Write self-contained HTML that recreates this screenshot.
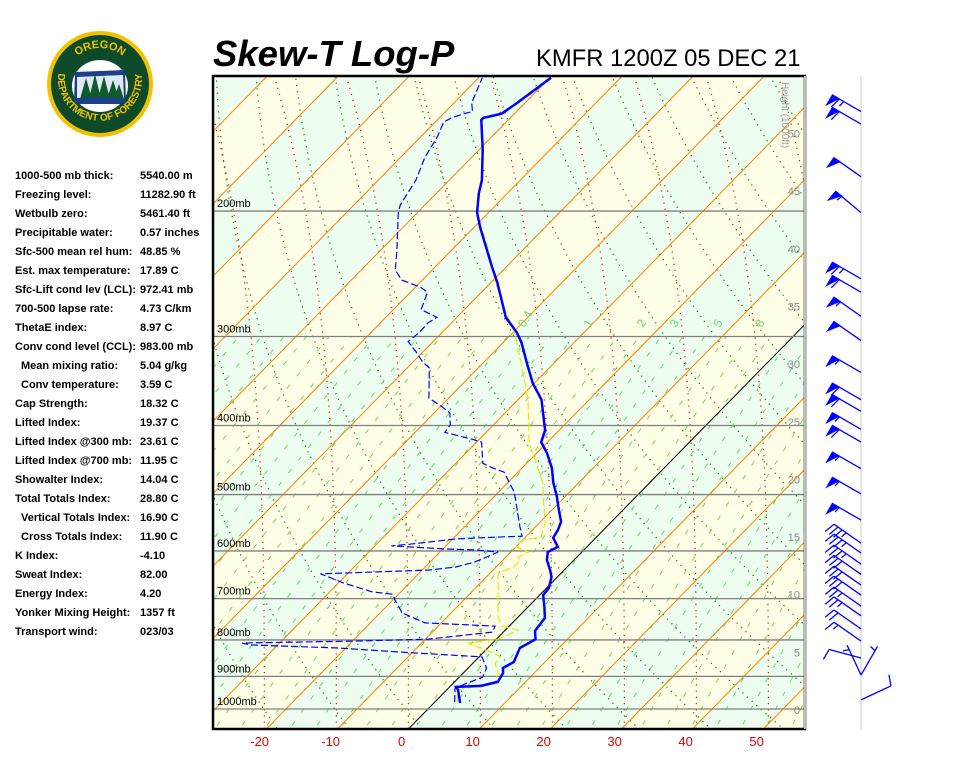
<!DOCTYPE html>
<html><head><meta charset="utf-8"><style>
body{margin:0;background:#fff;width:960px;height:768px;overflow:hidden;font-family:"Liberation Sans",Arial,sans-serif}
#stats{position:absolute;left:15px;top:170px;font-size:11px;font-weight:bold;color:#000}
.row{position:absolute;white-space:nowrap;height:14px}
.row .v{position:absolute;left:125px}
</style></head><body>
<svg id="logo" width="960" height="768" style="position:absolute;left:0;top:0">
 <defs>
  <path id="arcTop" d="M64,84 A36,36 0 0 1 136,84"/>
  <path id="arcBot" d="M60,66 A42,42 0 1 0 140,66"/>
 </defs>
 <circle cx="100" cy="84" r="53" fill="#f2c200"/>
 <circle cx="100" cy="84" r="49" fill="#0d4a2a"/>
 <ellipse cx="100" cy="86" rx="28" ry="26" fill="#fff"/>
 <path d="M75,72 L125,70 L126,102 L74,102 Z" fill="#1c3f8a"/>
 <path d="M77,77 L123,75 L124,98 L77,98 Z" fill="#dfe8f3"/>
 <g fill="#0d5a2a"><path d="M80,99 L86,78 L92,99Z"/><path d="M89,99 L95,74 L101,99Z"/><path d="M98,99 L104,76 L110,99Z"/><path d="M107,99 L113,80 L119,99Z"/><path d="M114,99 L119,84 L124,99Z"/></g>
 <path d="M76,99 Q100,95 124,99 L122,104 L78,104Z" fill="#1c3f8a"/>
 <text font-size="11" font-weight="bold" fill="#f2c200" font-family="Liberation Sans,sans-serif"><textPath href="#arcTop" startOffset="50%" text-anchor="middle">OREGON</textPath></text>
 <text font-size="10" font-weight="bold" fill="#f2c200" font-family="Liberation Sans,sans-serif"><textPath href="#arcBot" startOffset="50%" text-anchor="middle">DEPARTMENT OF FORESTRY</textPath></text>
 <text x="213" y="66" font-size="36.5" font-weight="bold" font-style="italic" fill="#000">Skew-T Log-P</text>
 <text x="536" y="66" font-size="23.8" fill="#000">KMFR 1200Z 05 DEC 21</text>
</svg>
<div id="stats"></div>
<svg id="chart" width="960" height="768" style="position:absolute;left:0;top:0"></svg>
<script>
const tempP=[981,940,931,928,919,916,890,876,859,834,821,808,798,777,745,719,692,676,653,638,618,602,592,575,561,546,526,501,482,459,437,422,406,368,349,327,306,296,282,252,240,225,211,201,189,181,164,149,148,146,141,130];
const tempT=[3.7,1.6,0.9,4.3,5.6,6.1,5.6,4.9,5.6,4.9,4.5,5.1,5.5,4.3,3.9,2.3,0.5,0.3,-0.8,-2.0,-3.8,-4.8,-4.1,-6.0,-6.4,-7.1,-9.0,-11.4,-13.5,-15.8,-18.6,-20.9,-22.0,-26.7,-30.2,-33.8,-37.4,-39.5,-43.1,-49.1,-51.9,-55.5,-59.1,-61.6,-64.0,-65.4,-69.5,-73.8,-73.8,-71.8,-71.1,-69.8];
const dewP=[978,934,902,876,845,834,821,813,808,803,798,780,765,757,733,703,690,685,665,646,644,638,632,622,602,598,596,590,587,577,574,572,555,509,496,465,459,452,422,418,409,399,384,377,366,332,326,316,305,296,287,282,275,260,256,250,242,227,201,196,181,168,157,150,148,146,145,141,130];
const dewT=[2.8,0.9,3.3,2.6,0.4,-10.0,-21.1,-33.9,-35.3,-19.7,-9.7,-1.5,-2.0,-12.3,-16.9,-19.7,-20.8,-24.0,-29.4,-33.8,-29.5,-19.0,-15.7,-13.7,-11.8,-15.3,-20.0,-27.7,-25.3,-19.5,-14.3,-10.6,-12.2,-16.5,-17.8,-22.0,-24.1,-26.2,-29.3,-31.1,-35.8,-36.1,-37.8,-39.6,-42.8,-46.9,-48.6,-50.8,-53.5,-53.2,-53.3,-52.8,-56.1,-57.6,-59.2,-62.9,-65.2,-67.7,-72.7,-73.5,-74.7,-76.6,-77.7,-78.8,-78.3,-77.1,-76.2,-77.5,-79.5];
const parcelP=[978,940,919,890,862,845,834,808,798,775,765,745,644,632,618,612,602,592,579,574,548,509,482,447,423,368,324,296,269,250,222,207,201];
const parcelT=[3.1,1.6,5.8,4.9,3.1,3.0,1.4,-3.5,0.2,1.8,-1.0,-2.7,-8.9,-7.5,-7.6,-8.3,-7.5,-10.0,-9.9,-7.8,-9.2,-12.6,-15.0,-19.3,-22.5,-28.6,-35.1,-39.8,-45.6,-49.8,-56.0,-60.0,-61.6];
const barbP=[145,151,179,201,249,260,281,304,337,368,382,405,422,460,499,543,585,604,626,647,670,692,717,740,772,803,848,896,896,971];
const barbDir=[300,300,305,310,300,300,305,305,300,300,300,300,300,300,300,300,305,305,305,305,305,305,305,305,305,305,285,335,30,65];
const barbSpd=[65,60,50,55,65,60,55,50,55,60,60,55,60,55,55,55,35,35,35,30,30,30,25,25,20,15,10,5,5,10];
const pressureLevels=[1000,900,800,700,600,500,400,300,200];
const tempTicks=[-20,-10,0,10,20,30,40,50];
const heightTicks=[0,5,10,15,20,25,30,35,40,45,50];
const mixLabels=[0.4,1,2,3,5,8];
const moistBase=[-40,-30,-20,-10,0,10,20,30,40,50,60];
const stats=[["1000-500 mb thick:","5540.00 m",0],["Freezing level:","11282.90 ft",0],["Wetbulb zero:","5461.40 ft",0],["Precipitable water:","0.57 inches",0],["Sfc-500 mean rel hum:","48.85 %",0],["Est. max temperature:","17.89 C",0],["Sfc-Lift cond lev (LCL):","972.41 mb",0],["700-500 lapse rate:","4.73 C/km",0],["ThetaE index:","8.97 C",0],["Conv cond level (CCL):","983.00 mb",0],["Mean mixing ratio:","5.04 g/kg",1],["Conv temperature:","3.59 C",1],["Cap Strength:","18.32 C",0],["Lifted Index:","19.37 C",0],["Lifted Index @300 mb:","23.61 C",0],["Lifted Index @700 mb:","11.95 C",0],["Showalter Index:","14.04 C",0],["Total Totals Index:","28.80 C",0],["Vertical Totals Index:","16.90 C",1],["Cross Totals Index:","11.90 C",1],["K Index:","-4.10",0],["Sweat Index:","82.00",0],["Energy Index:","4.20",0],["Yonker Mixing Height:","1357 ft",0],["Transport wind:","023/03",0]];

const st=document.getElementById('stats');
stats.forEach((s,i)=>{
  const r=document.createElement('div');
  r.className='row';r.style.top=(i*19)+'px';r.style.left=(s[2]?6:0)+'px';
  r.innerHTML='<span>'+s[0]+'</span><span class="v" style="left:'+(125-(s[2]?6:0))+'px">'+s[1]+'</span>';
  
  
  st.appendChild(r);
});

const NS='http://www.w3.org/2000/svg';
const svg=document.getElementById('chart');
const L=213,R=805,T0=76,B=729;
function yOf(p){return 709+309.4*Math.log(p/1000);}
function xAtY(t,y){return 428+7.1*t+0.98*(709-y);}
function xOf(t,p){return xAtY(t,yOf(p));}
function mk(tag,a,parent){const e=document.createElementNS(NS,tag);for(const k in a)e.setAttribute(k,a[k]);(parent||svg).appendChild(e);return e;}
const defs=mk('defs',{});
const cp=mk('clipPath',{id:'clip'},defs);mk('rect',{x:L,y:T0,width:R-L,height:B-T0},cp);
const g=mk('g',{'clip-path':'url(#clip)'});


for(let t=-160;t<70;t+=10){
  const green=(Math.floor(t/10)%2===0);
  const b=mk('polygon',{points:[xAtY(t,B),B,xAtY(t+10,B),B,xAtY(t+10,T0),T0,xAtY(t,T0),T0].join(' '),fill:green?'#edfdef':'#fffee6'},g);
  
  
}
function pathFrom(pts){return 'M'+pts.map(p=>p[0].toFixed(1)+','+p[1].toFixed(1)).join('L');}
for(let th=200;th<=480;th+=10){
  const pts=[];for(let p=1100;p>=120;p-=10){const T=th*Math.pow(p/1000,0.286)-273.15;pts.push([xOf(T,p),yOf(p)]);}
  const e=mk('path',{d:pathFrom(pts),fill:'none',stroke:'#008000','stroke-width':1.2,'stroke-dasharray':'1.2,5'},g);
  
  
}
moistBase.forEach(tw=>{
  const xb=xAtY(tw,B)+ (tw*0.1);
  const pts=[];for(let y=B;y>=T0-2;y-=8){const d=(B-y)/653;pts.push([xb-62*d*d*d,y]);}
  const e=mk('path',{d:pathFrom(pts),fill:'none',stroke:'#ff0000','stroke-width':1.2,'stroke-dasharray':'1.2,5'},g);
  
  
});
function es(t){return 6.112*Math.exp(17.67*t/(t+243.5));}
function tdFromW(w,p){const e=w*p/(622+w);const l=Math.log(e/6.112);return 243.5*l/(17.67-l);}
for(let td=-70;td<=62;td+=3.5){
  const e0=es(td),w=622*e0/(1000-e0);
  const pts=[];for(let p=1100;p>=300;p-=20){pts.push([xOf(tdFromW(w,p),p),yOf(p)]);}
  const e=mk('path',{d:pathFrom(pts),fill:'none',stroke:'#66d866','stroke-width':1,'stroke-dasharray':'5,11'},g);
  
  
}
for(let t=-160;t<=70;t+=10){
  const e=mk('line',{x1:xAtY(t,B),y1:B,x2:xAtY(t,T0),y2:T0,stroke:t===0?'#000':'#ff8000','stroke-width':1},g);
  
  
}
pressureLevels.forEach(p=>{
  const y=yOf(p);
  const e=mk('line',{x1:L,y1:y,x2:R,y2:y,stroke:'#808080','stroke-width':1.3},g);
  
  
  const t=mk('text',{x:L+4,y:y-4,'font-size':11,fill:'#000'},g);t.textContent=p+'mb';
  
  
});
mixLabels.forEach(w=>{
  const p=292,x=xOf(tdFromW(w,p),p),y=yOf(p);
  const t=mk('text',{x:x+8,y:y,'font-size':12,fill:'#66dd66',transform:'rotate(-60 '+(x+8)+' '+y+')'},g);t.textContent=String(w);
  
  
});
heightTicks.forEach(h=>{
  const y=709-h*11.53;
  const t=mk('text',{x:800,y:y+5,'font-size':11,fill:'#888','text-anchor':'end'},g);t.textContent=h;
  
  
});
const ht=mk('text',{x:782,y:82,'font-size':10,fill:'#999',transform:'rotate(90 782 82)'},g);ht.textContent='Height (1000ft)';


function line(P,Tv){return pathFrom(P.map((p,i)=>[xOf(Tv[i],p),yOf(p)]));}
const pc=mk('path',{d:line(parcelP,parcelT),fill:'none',stroke:'#e8e800','stroke-width':1.2,'stroke-dasharray':'8,3'},g);


const dw=mk('path',{d:line(dewP,dewT),fill:'none',stroke:'#0000ff','stroke-width':1.2,'stroke-dasharray':'7,3'},g);


const tp=mk('path',{d:line(tempP,tempT),fill:'none',stroke:'#0000ff','stroke-width':2.5},g);


const fr=mk('rect',{x:L,y:T0,width:R-L,height:B-T0,fill:'none',stroke:'#000','stroke-width':2.5});


const rb=mk('line',{x1:R,y1:T0,x2:R,y2:B,stroke:'#bbb','stroke-width':2});


tempTicks.forEach(t=>{
  const tx=mk('text',{x:xAtY(t,741)+5,y:746,'font-size':13,fill:'#e00000','text-anchor':'middle'});tx.textContent=t;
  
  
});
const pole=mk('line',{x1:861,y1:T0,x2:861,y2:B,stroke:'#e4e4e4','stroke-width':2});


barbP.forEach((p,i)=>{
  const y=yOf(p),a=barbDir[i]*Math.PI/180;
  const sx=Math.sin(a),sy=-Math.cos(a),Ls=33;
  const tx=861+sx*Ls,ty=y+sy*Ls;
  const bg=mk('g',{stroke:'#0000ff',fill:'#0000ff','stroke-width':1.3});
  
  
  mk('line',{x1:861,y1:y,x2:tx,y2:ty},bg);
  const px=-sy,py=sx;
  let s=barbSpd[i],pos=0;
  while(s>=50){const ax=tx-sx*pos,ay=ty-sy*pos;const bx=tx-sx*(pos+7),by=ty-sy*(pos+7);
    mk('polygon',{points:[ax,ay,ax-px*11,ay-py*11,bx,by].join(' ')},bg);pos+=8;s-=50;}
  while(s>=10){const ax=tx-sx*pos,ay=ty-sy*pos;mk('line',{x1:ax,y1:ay,x2:ax-px*11+sx*3,y2:ay-py*11+sy*3},bg);pos+=5;s-=10;}
  if(s>=5){if(pos===0)pos=5;const ax=tx-sx*pos,ay=ty-sy*pos;mk('line',{x1:ax,y1:ay,x2:ax-px*6+sx*1.5,y2:ay-py*6+sy*1.5},bg);}
});
</script>
</body></html>
